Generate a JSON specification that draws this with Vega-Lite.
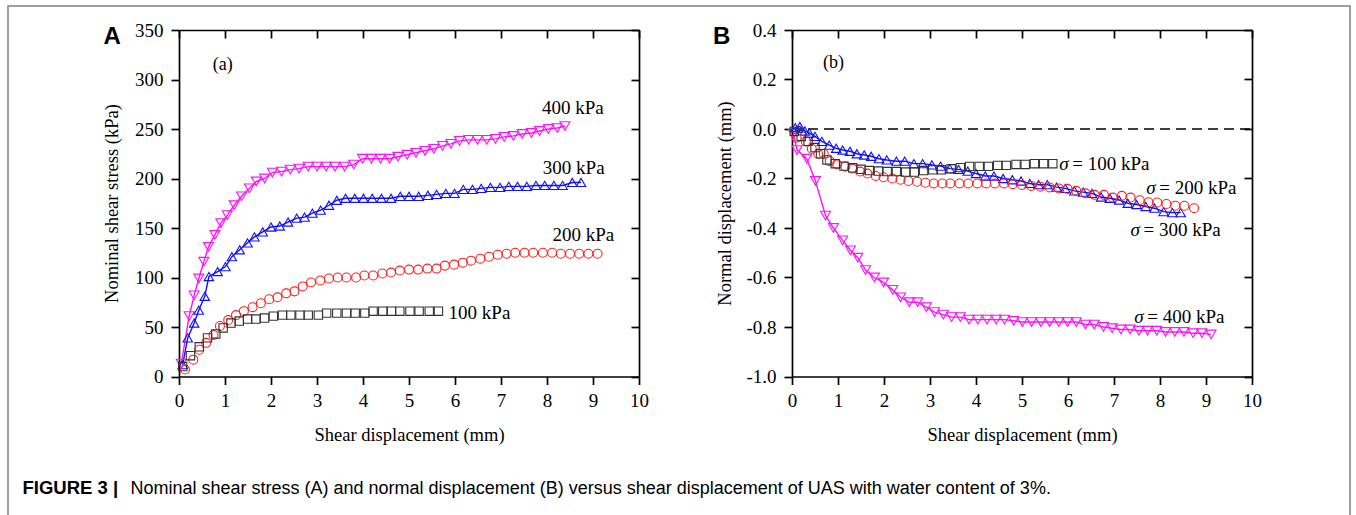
{
  "$schema": "https://vega.github.io/schema/vega-lite/v6.json",
  "width": 1342,
  "height": 509,
  "autosize": {"type": "none"},
  "padding": {"left": 8, "top": 6, "right": 6, "bottom": 0},
  "background": "white",
  "config": {
    "view": {"stroke": "#808080", "strokeWidth": 1.5, "strokeDash": [1851, 1342, 800]},
    "axis": {"domainColor": "black", "domainWidth": 1.7, "tickColor": "black", "tickWidth": 1.7, "tickSize": 8,
      "labelFont": "Liberation Serif", "labelFontSize": 19, "labelColor": "black", "labelFlush": false, "labelOverlap": false,
      "titleFont": "Liberation Serif", "titleFontSize": 18.5, "titleColor": "black", "titleFontWeight": "normal", "titleLimit": 2000, "grid": false},
    "text": {"font": "Liberation Serif", "fontSize": 19, "color": "black"}
  },
  "datasets": {
    "A": [
      {"s":"400","x":0.05,"y":13},{"s":"400","x":0.22,"y":61},{"s":"400","x":0.33,"y":82},{"s":"400","x":0.43,"y":99},{"s":"400","x":0.54,"y":116},{"s":"400","x":0.64,"y":131},{"s":"400","x":0.78,"y":143},{"s":"400","x":0.91,"y":155},{"s":"400","x":1.05,"y":163},{"s":"400","x":1.2,"y":173},{"s":"400","x":1.36,"y":182},{"s":"400","x":1.53,"y":190},{"s":"400","x":1.68,"y":197},{"s":"400","x":1.86,"y":200},{"s":"400","x":2.03,"y":206},{"s":"400","x":2.23,"y":207},{"s":"400","x":2.42,"y":209},{"s":"400","x":2.61,"y":210},{"s":"400","x":2.81,"y":212},{"s":"400","x":3.0,"y":212},{"s":"400","x":3.2,"y":212},{"s":"400","x":3.39,"y":212},{"s":"400","x":3.6,"y":212},{"s":"400","x":3.8,"y":214},{"s":"400","x":3.99,"y":220},{"s":"400","x":4.18,"y":220},{"s":"400","x":4.38,"y":220},{"s":"400","x":4.58,"y":220},{"s":"400","x":4.76,"y":222},{"s":"400","x":4.96,"y":224},{"s":"400","x":5.15,"y":226},{"s":"400","x":5.35,"y":228},{"s":"400","x":5.54,"y":230},{"s":"400","x":5.73,"y":233},{"s":"400","x":5.91,"y":235},{"s":"400","x":6.1,"y":238},{"s":"400","x":6.3,"y":239},{"s":"400","x":6.49,"y":239},{"s":"400","x":6.69,"y":239},{"s":"400","x":6.88,"y":240},{"s":"400","x":7.07,"y":242},{"s":"400","x":7.27,"y":243},{"s":"400","x":7.46,"y":245},{"s":"400","x":7.66,"y":246},{"s":"400","x":7.84,"y":248},{"s":"400","x":8.03,"y":250},{"s":"400","x":8.22,"y":251},{"s":"400","x":8.39,"y":253},
      {"s":"300","x":0.08,"y":12},{"s":"300","x":0.19,"y":39},{"s":"300","x":0.33,"y":54},{"s":"300","x":0.43,"y":67},{"s":"300","x":0.56,"y":81},{"s":"300","x":0.65,"y":101},{"s":"300","x":0.84,"y":106},{"s":"300","x":1.01,"y":111},{"s":"300","x":1.15,"y":121},{"s":"300","x":1.32,"y":128},{"s":"300","x":1.49,"y":135},{"s":"300","x":1.64,"y":141},{"s":"300","x":1.82,"y":146},{"s":"300","x":2.0,"y":151},{"s":"300","x":2.19,"y":152},{"s":"300","x":2.37,"y":156},{"s":"300","x":2.56,"y":160},{"s":"300","x":2.73,"y":161},{"s":"300","x":2.9,"y":165},{"s":"300","x":3.08,"y":168},{"s":"300","x":3.26,"y":173},{"s":"300","x":3.43,"y":178},{"s":"300","x":3.62,"y":180},{"s":"300","x":3.82,"y":180},{"s":"300","x":4.01,"y":180},{"s":"300","x":4.2,"y":180},{"s":"300","x":4.4,"y":180},{"s":"300","x":4.61,"y":180},{"s":"300","x":4.81,"y":182},{"s":"300","x":5.0,"y":182},{"s":"300","x":5.21,"y":182},{"s":"300","x":5.41,"y":183},{"s":"300","x":5.6,"y":184},{"s":"300","x":5.8,"y":185},{"s":"300","x":5.99,"y":185},{"s":"300","x":6.18,"y":189},{"s":"300","x":6.38,"y":189},{"s":"300","x":6.57,"y":190},{"s":"300","x":6.77,"y":191},{"s":"300","x":6.98,"y":191},{"s":"300","x":7.17,"y":192},{"s":"300","x":7.36,"y":192},{"s":"300","x":7.56,"y":192},{"s":"300","x":7.76,"y":193},{"s":"300","x":7.95,"y":193},{"s":"300","x":8.15,"y":193},{"s":"300","x":8.34,"y":193},{"s":"300","x":8.55,"y":196},{"s":"300","x":8.74,"y":196},
      {"s":"200","x":0.13,"y":7},{"s":"200","x":0.31,"y":17},{"s":"200","x":0.44,"y":27},{"s":"200","x":0.59,"y":34},{"s":"200","x":0.75,"y":42},{"s":"200","x":0.89,"y":51},{"s":"200","x":1.07,"y":57},{"s":"200","x":1.24,"y":62},{"s":"200","x":1.41,"y":66},{"s":"200","x":1.6,"y":70},{"s":"200","x":1.78,"y":74},{"s":"200","x":1.96,"y":78},{"s":"200","x":2.14,"y":80},{"s":"200","x":2.33,"y":84},{"s":"200","x":2.51,"y":86},{"s":"200","x":2.69,"y":91},{"s":"200","x":2.87,"y":95},{"s":"200","x":3.07,"y":97},{"s":"200","x":3.26,"y":99},{"s":"200","x":3.45,"y":100},{"s":"200","x":3.64,"y":100},{"s":"200","x":3.85,"y":100},{"s":"200","x":4.03,"y":102},{"s":"200","x":4.22,"y":102},{"s":"200","x":4.42,"y":104},{"s":"200","x":4.61,"y":105},{"s":"200","x":4.8,"y":107},{"s":"200","x":5.0,"y":108},{"s":"200","x":5.2,"y":108},{"s":"200","x":5.4,"y":109},{"s":"200","x":5.6,"y":109},{"s":"200","x":5.78,"y":112},{"s":"200","x":5.98,"y":113},{"s":"200","x":6.17,"y":115},{"s":"200","x":6.35,"y":117},{"s":"200","x":6.55,"y":119},{"s":"200","x":6.74,"y":121},{"s":"200","x":6.93,"y":123},{"s":"200","x":7.12,"y":124},{"s":"200","x":7.31,"y":125},{"s":"200","x":7.51,"y":125},{"s":"200","x":7.7,"y":125},{"s":"200","x":7.91,"y":125},{"s":"200","x":8.11,"y":125},{"s":"200","x":8.3,"y":124},{"s":"200","x":8.5,"y":124},{"s":"200","x":8.7,"y":124},{"s":"200","x":8.9,"y":124},{"s":"200","x":9.1,"y":124},
      {"s":"100","x":0.08,"y":10},{"s":"100","x":0.25,"y":21},{"s":"100","x":0.44,"y":30},{"s":"100","x":0.62,"y":39},{"s":"100","x":0.8,"y":43},{"s":"100","x":0.96,"y":49},{"s":"100","x":1.13,"y":54},{"s":"100","x":1.31,"y":56},{"s":"100","x":1.49,"y":58},{"s":"100","x":1.67,"y":58},{"s":"100","x":1.86,"y":59},{"s":"100","x":2.05,"y":61},{"s":"100","x":2.25,"y":62},{"s":"100","x":2.43,"y":62},{"s":"100","x":2.63,"y":62},{"s":"100","x":2.81,"y":62},{"s":"100","x":3.03,"y":62},{"s":"100","x":3.21,"y":64},{"s":"100","x":3.43,"y":64},{"s":"100","x":3.64,"y":64},{"s":"100","x":3.83,"y":64},{"s":"100","x":4.04,"y":64},{"s":"100","x":4.22,"y":66},{"s":"100","x":4.43,"y":66},{"s":"100","x":4.62,"y":66},{"s":"100","x":4.8,"y":66},{"s":"100","x":5.02,"y":66},{"s":"100","x":5.22,"y":66},{"s":"100","x":5.44,"y":66},{"s":"100","x":5.64,"y":66}
    ],
    "B": [
      {"s":"400","x":0.03,"y":-0.02},{"s":"400","x":0.11,"y":-0.085},{"s":"400","x":0.32,"y":-0.12},{"s":"400","x":0.51,"y":-0.21},{"s":"400","x":0.73,"y":-0.35},{"s":"400","x":0.9,"y":-0.4},{"s":"400","x":1.1,"y":-0.45},{"s":"400","x":1.27,"y":-0.49},{"s":"400","x":1.43,"y":-0.52},{"s":"400","x":1.6,"y":-0.57},{"s":"400","x":1.79,"y":-0.6},{"s":"400","x":1.99,"y":-0.62},{"s":"400","x":2.19,"y":-0.65},{"s":"400","x":2.36,"y":-0.68},{"s":"400","x":2.55,"y":-0.7},{"s":"400","x":2.73,"y":-0.7},{"s":"400","x":2.92,"y":-0.72},{"s":"400","x":3.1,"y":-0.74},{"s":"400","x":3.29,"y":-0.75},{"s":"400","x":3.47,"y":-0.76},{"s":"400","x":3.66,"y":-0.76},{"s":"400","x":3.85,"y":-0.77},{"s":"400","x":4.04,"y":-0.77},{"s":"400","x":4.24,"y":-0.77},{"s":"400","x":4.44,"y":-0.77},{"s":"400","x":4.62,"y":-0.77},{"s":"400","x":4.82,"y":-0.775},{"s":"400","x":5.01,"y":-0.78},{"s":"400","x":5.21,"y":-0.78},{"s":"400","x":5.41,"y":-0.78},{"s":"400","x":5.6,"y":-0.78},{"s":"400","x":5.8,"y":-0.78},{"s":"400","x":5.99,"y":-0.78},{"s":"400","x":6.18,"y":-0.78},{"s":"400","x":6.38,"y":-0.79},{"s":"400","x":6.57,"y":-0.79},{"s":"400","x":6.77,"y":-0.8},{"s":"400","x":6.96,"y":-0.805},{"s":"400","x":7.15,"y":-0.81},{"s":"400","x":7.35,"y":-0.81},{"s":"400","x":7.54,"y":-0.815},{"s":"400","x":7.73,"y":-0.815},{"s":"400","x":7.93,"y":-0.815},{"s":"400","x":8.12,"y":-0.82},{"s":"400","x":8.32,"y":-0.82},{"s":"400","x":8.52,"y":-0.82},{"s":"400","x":8.72,"y":-0.825},{"s":"400","x":8.91,"y":-0.825},{"s":"400","x":9.11,"y":-0.83},
      {"s":"300","x":0.07,"y":0.005},{"s":"300","x":0.17,"y":0.01},{"s":"300","x":0.28,"y":-0.008},{"s":"300","x":0.38,"y":-0.017},{"s":"300","x":0.5,"y":-0.03},{"s":"300","x":0.65,"y":-0.05},{"s":"300","x":0.81,"y":-0.065},{"s":"300","x":0.96,"y":-0.078},{"s":"300","x":1.1,"y":-0.085},{"s":"300","x":1.26,"y":-0.09},{"s":"300","x":1.41,"y":-0.1},{"s":"300","x":1.57,"y":-0.105},{"s":"300","x":1.72,"y":-0.11},{"s":"300","x":1.89,"y":-0.12},{"s":"300","x":2.06,"y":-0.125},{"s":"300","x":2.27,"y":-0.13},{"s":"300","x":2.45,"y":-0.13},{"s":"300","x":2.65,"y":-0.14},{"s":"300","x":2.84,"y":-0.14},{"s":"300","x":3.04,"y":-0.145},{"s":"300","x":3.23,"y":-0.15},{"s":"300","x":3.43,"y":-0.16},{"s":"300","x":3.62,"y":-0.163},{"s":"300","x":3.82,"y":-0.17},{"s":"300","x":4.0,"y":-0.18},{"s":"300","x":4.2,"y":-0.19},{"s":"300","x":4.39,"y":-0.19},{"s":"300","x":4.59,"y":-0.2},{"s":"300","x":4.79,"y":-0.205},{"s":"300","x":4.98,"y":-0.21},{"s":"300","x":5.17,"y":-0.22},{"s":"300","x":5.36,"y":-0.225},{"s":"300","x":5.55,"y":-0.225},{"s":"300","x":5.75,"y":-0.235},{"s":"300","x":5.94,"y":-0.24},{"s":"300","x":6.14,"y":-0.25},{"s":"300","x":6.33,"y":-0.255},{"s":"300","x":6.52,"y":-0.26},{"s":"300","x":6.72,"y":-0.275},{"s":"300","x":6.91,"y":-0.28},{"s":"300","x":7.11,"y":-0.287},{"s":"300","x":7.3,"y":-0.3},{"s":"300","x":7.49,"y":-0.305},{"s":"300","x":7.69,"y":-0.313},{"s":"300","x":7.88,"y":-0.32},{"s":"300","x":8.08,"y":-0.334},{"s":"300","x":8.27,"y":-0.338},{"s":"300","x":8.45,"y":-0.338},
      {"s":"200","x":0.1,"y":-0.035},{"s":"200","x":0.3,"y":-0.05},{"s":"200","x":0.43,"y":-0.08},{"s":"200","x":0.57,"y":-0.1},{"s":"200","x":0.69,"y":-0.1},{"s":"200","x":0.82,"y":-0.13},{"s":"200","x":0.98,"y":-0.143},{"s":"200","x":1.16,"y":-0.152},{"s":"200","x":1.31,"y":-0.16},{"s":"200","x":1.48,"y":-0.172},{"s":"200","x":1.64,"y":-0.18},{"s":"200","x":1.82,"y":-0.19},{"s":"200","x":1.99,"y":-0.195},{"s":"200","x":2.18,"y":-0.2},{"s":"200","x":2.36,"y":-0.205},{"s":"200","x":2.53,"y":-0.21},{"s":"200","x":2.72,"y":-0.213},{"s":"200","x":2.9,"y":-0.217},{"s":"200","x":3.08,"y":-0.22},{"s":"200","x":3.27,"y":-0.22},{"s":"200","x":3.44,"y":-0.22},{"s":"200","x":3.64,"y":-0.22},{"s":"200","x":3.83,"y":-0.22},{"s":"200","x":4.03,"y":-0.22},{"s":"200","x":4.22,"y":-0.22},{"s":"200","x":4.41,"y":-0.22},{"s":"200","x":4.61,"y":-0.22},{"s":"200","x":4.8,"y":-0.223},{"s":"200","x":5.0,"y":-0.226},{"s":"200","x":5.2,"y":-0.23},{"s":"200","x":5.4,"y":-0.233},{"s":"200","x":5.6,"y":-0.236},{"s":"200","x":5.8,"y":-0.24},{"s":"200","x":5.99,"y":-0.242},{"s":"200","x":6.18,"y":-0.25},{"s":"200","x":6.38,"y":-0.26},{"s":"200","x":6.58,"y":-0.266},{"s":"200","x":6.78,"y":-0.266},{"s":"200","x":6.97,"y":-0.277},{"s":"200","x":7.17,"y":-0.27},{"s":"200","x":7.36,"y":-0.277},{"s":"200","x":7.56,"y":-0.288},{"s":"200","x":7.75,"y":-0.296},{"s":"200","x":7.94,"y":-0.297},{"s":"200","x":8.14,"y":-0.303},{"s":"200","x":8.33,"y":-0.31},{"s":"200","x":8.53,"y":-0.31},{"s":"200","x":8.74,"y":-0.32},
      {"s":"100","x":0.05,"y":-0.01},{"s":"100","x":0.2,"y":-0.03},{"s":"100","x":0.35,"y":-0.05},{"s":"100","x":0.5,"y":-0.075},{"s":"100","x":0.62,"y":-0.1},{"s":"100","x":0.76,"y":-0.125},{"s":"100","x":0.94,"y":-0.14},{"s":"100","x":1.13,"y":-0.15},{"s":"100","x":1.32,"y":-0.157},{"s":"100","x":1.5,"y":-0.163},{"s":"100","x":1.68,"y":-0.168},{"s":"100","x":1.88,"y":-0.17},{"s":"100","x":2.07,"y":-0.172},{"s":"100","x":2.27,"y":-0.172},{"s":"100","x":2.47,"y":-0.174},{"s":"100","x":2.66,"y":-0.174},{"s":"100","x":2.86,"y":-0.168},{"s":"100","x":3.06,"y":-0.165},{"s":"100","x":3.25,"y":-0.165},{"s":"100","x":3.46,"y":-0.161},{"s":"100","x":3.66,"y":-0.156},{"s":"100","x":3.86,"y":-0.151},{"s":"100","x":4.07,"y":-0.151},{"s":"100","x":4.27,"y":-0.151},{"s":"100","x":4.47,"y":-0.147},{"s":"100","x":4.66,"y":-0.147},{"s":"100","x":4.87,"y":-0.143},{"s":"100","x":5.07,"y":-0.143},{"s":"100","x":5.27,"y":-0.14},{"s":"100","x":5.47,"y":-0.14},{"s":"100","x":5.67,"y":-0.14}
    ],
    "labA": [
      {"t":"400 kPa","x":7.89,"y":271},{"t":"300 kPa","x":7.91,"y":211},{"t":"200 kPa","x":8.12,"y":143},{"t":"100 kPa","x":5.86,"y":64.6}
    ],
    "labB": [
      {"t":"= 100 kPa","x":5.81,"y":-0.141},{"t":"= 200 kPa","x":7.7,"y":-0.24},{"t":"= 300 kPa","x":7.36,"y":-0.41},{"t":"= 400 kPa","x":7.44,"y":-0.758}
    ],
    "panA": [{"t":"(a)","x":0.95,"y":315}],
    "panB": [{"t":"(b)","x":0.9,"y":0.265}],
    "zeroB": [{"x":0,"x2":10,"y":0}]
  },
  "resolve": {"scale": {"x": "independent", "y": "independent"}},
  "layer": [
    {
      "encoding": {
        "x": {"field": "x", "type": "quantitative",
          "scale": {"domain": [0, 10], "range": [171, 631], "nice": false, "zero": false},
          "axis": {"orient": "bottom", "offset": -138.5, "values": [0,1,2,3,4,5,6,7,8,9,10], "labelPadding": 7,
            "title": "Shear displacement (mm)", "titleX": 401, "titleY": 58, "titleAngle": 0, "titleAlign": "center", "titleBaseline": "middle"}},
        "y": {"field": "y", "type": "quantitative",
          "scale": {"domain": [0, 350], "range": [370.5, 24], "nice": false, "zero": false},
          "axis": {"orient": "left", "offset": -171, "values": [0,50,100,150,200,250,300,350], "labelPadding": 8,
            "title": "Nominal shear stress (kPa)", "titleX": -68, "titleY": 197, "titleAngle": -90, "titleAlign": "center", "titleBaseline": "middle"}}
      },
      "layer": [
        {"data": {"name": "A"}, "transform": [{"filter": "datum.s == '300' || datum.s == '400'"}],
         "mark": {"type": "line", "strokeWidth": 1.4},
         "encoding": {"color": {"field": "s", "type": "nominal", "scale": {"domain": ["100","200","300","400"], "range": ["#333333","#ff2020","#1010ff","#ff10ff"]}, "legend": null}}},
        {"data": {"name": "A"},
         "mark": {"type": "point", "filled": false, "strokeWidth": 1.1, "opacity": 1},
         "encoding": {
           "color": {"field": "s", "type": "nominal", "scale": {"domain": ["100","200","300","400"], "range": ["#333333","#ff2020","#1010ff","#ff10ff"]}, "legend": null},
           "size": {"field": "s", "type": "nominal", "scale": {"domain": ["100","200","300","400"], "range": [70, 100, 105, 105]}, "legend": null},
           "shape": {"field": "s", "type": "nominal", "scale": {"domain": ["100","200","300","400"], "range": ["square","circle","triangle-up","triangle-down"]}, "legend": null}}},
        {"data": {"name": "labA"},
         "mark": {"type": "text", "align": "left", "baseline": "middle", "fontSize": 19},
         "encoding": {"text": {"field": "t"}}}
      ]
    },
    {
      "data": {"name": "panA"},
      "mark": {"type": "text", "align": "center", "baseline": "middle", "fontSize": 18},
      "encoding": {
        "text": {"field": "t"},
        "x": {"field": "x", "type": "quantitative",
          "scale": {"domain": [0, 10], "range": [171, 631], "nice": false, "zero": false},
          "axis": {"orient": "top", "offset": -24, "values": [0,1,2,3,4,5,6,7,8,9,10], "labels": false, "tickSize": -8,
            "title": "FIGURE 3 |", "titleX": 14, "titleY": 463, "titleAngle": 0, "titleAlign": "left", "titleBaseline": "alphabetic",
            "titleFont": "Liberation Sans", "titleFontWeight": "bold", "titleFontSize": 18.5}},
        "y": {"field": "y", "type": "quantitative",
          "scale": {"domain": [0, 350], "range": [370.5, 24], "nice": false, "zero": false},
          "axis": {"orient": "right", "offset": -711, "values": [0,50,100,150,200,250,300,350], "labels": false, "tickSize": -8,
            "title": "A", "titleX": -536, "titleY": 37.5, "titleAngle": 0, "titleAlign": "left", "titleBaseline": "alphabetic",
            "titleFont": "Liberation Sans", "titleFontWeight": "bold", "titleFontSize": 24}}
      }
    },
    {
      "encoding": {
        "x": {"field": "x", "type": "quantitative",
          "scale": {"domain": [0, 10], "range": [784, 1244], "nice": false, "zero": false},
          "axis": {"orient": "bottom", "offset": -138.5, "values": [0,1,2,3,4,5,6,7,8,9,10], "labelPadding": 7,
            "title": "Shear displacement (mm)", "titleX": 1014, "titleY": 58, "titleAngle": 0, "titleAlign": "center", "titleBaseline": "middle"}},
        "y": {"field": "y", "type": "quantitative",
          "scale": {"domain": [-1, 0.4], "range": [370.5, 24], "nice": false, "zero": false},
          "axis": {"orient": "left", "offset": -784, "values": [-1,-0.8,-0.6,-0.4,-0.2,0,0.2,0.4], "labelPadding": 8,
            "labelExpr": "replace(format(datum.value, '.1f'), '\u2212', '-')",
            "title": "Normal displacement (mm)", "titleX": -68, "titleY": 197, "titleAngle": -90, "titleAlign": "center", "titleBaseline": "middle"}}
      },
      "layer": [
        {"data": {"name": "zeroB"},
         "mark": {"type": "rule", "strokeDash": [10, 6], "strokeWidth": 1.6, "color": "black"},
         "encoding": {"x2": {"field": "x2"}}},
        {"data": {"name": "B"}, "transform": [{"filter": "datum.s == '300' || datum.s == '400'"}],
         "mark": {"type": "line", "strokeWidth": 1.4},
         "encoding": {"color": {"field": "s", "type": "nominal", "scale": {"domain": ["100","200","300","400"], "range": ["#333333","#ff2020","#1010ff","#ff10ff"]}, "legend": null}}},
        {"data": {"name": "B"},
         "mark": {"type": "point", "filled": false, "strokeWidth": 1.1, "opacity": 1},
         "encoding": {
           "color": {"field": "s", "type": "nominal", "scale": {"domain": ["100","200","300","400"], "range": ["#333333","#ff2020","#1010ff","#ff10ff"]}, "legend": null},
           "size": {"field": "s", "type": "nominal", "scale": {"domain": ["100","200","300","400"], "range": [70, 100, 105, 105]}, "legend": null},
           "shape": {"field": "s", "type": "nominal", "scale": {"domain": ["100","200","300","400"], "range": ["square","circle","triangle-up","triangle-down"]}, "legend": null}}},
        {"data": {"name": "labB"},
         "mark": {"type": "text", "align": "left", "baseline": "middle", "fontSize": 19, "fontStyle": "italic"},
         "encoding": {"text": {"value": "σ"}}},
        {"data": {"name": "labB"},
         "mark": {"type": "text", "align": "left", "baseline": "middle", "fontSize": 19, "dx": 13},
         "encoding": {"text": {"field": "t"}}}
      ]
    },
    {
      "data": {"name": "panB"},
      "mark": {"type": "text", "align": "center", "baseline": "middle", "fontSize": 18},
      "encoding": {
        "text": {"field": "t"},
        "x": {"field": "x", "type": "quantitative",
          "scale": {"domain": [0, 10], "range": [784, 1244], "nice": false, "zero": false},
          "axis": {"orient": "top", "offset": -24, "values": [0,1,2,3,4,5,6,7,8,9,10], "labels": false, "tickSize": -8,
            "title": "Nominal shear stress (A) and normal displacement (B) versus shear displacement of UAS with water content of 3%.",
            "titleX": 122, "titleY": 463, "titleAngle": 0, "titleAlign": "left", "titleBaseline": "alphabetic",
            "titleFont": "Liberation Sans", "titleFontWeight": "normal", "titleFontSize": 18}},
        "y": {"field": "y", "type": "quantitative",
          "scale": {"domain": [-1, 0.4], "range": [370.5, 24], "nice": false, "zero": false},
          "axis": {"orient": "right", "offset": -98, "values": [-1,-0.8,-0.6,-0.4,-0.2,0,0.2,0.4], "labels": false, "tickSize": -8,
            "title": "B", "titleX": -539.5, "titleY": 37.5, "titleAngle": 0, "titleAlign": "left", "titleBaseline": "alphabetic",
            "titleFont": "Liberation Sans", "titleFontWeight": "bold", "titleFontSize": 24}}
      }
    }
  ]
}
